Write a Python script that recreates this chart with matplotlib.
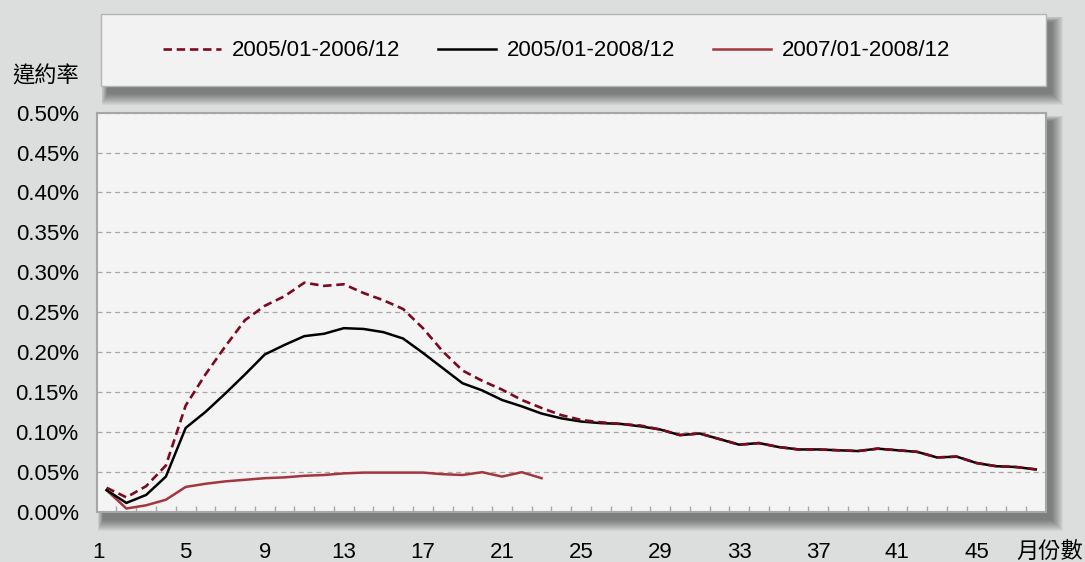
import matplotlib
matplotlib.use("Agg")
import matplotlib.pyplot as plt
from matplotlib.patches import Rectangle
from matplotlib.lines import Line2D
from matplotlib.transforms import ScaledTranslation

plt.rcParams['font.family'] = ['Liberation Sans', 'Noto Sans CJK TC', 'DejaVu Sans']

#-------------------------------------------------------------------------------
# data (default rate in %, by month since origination)

months = list(range(1, 49))

rate_0506 = [0.030, 0.018, 0.032, 0.058, 0.133, 0.172, 0.207, 0.240, 0.258, 0.270,
             0.287, 0.283, 0.285, 0.274, 0.265, 0.254, 0.230, 0.201, 0.177, 0.164,
             0.153, 0.140, 0.130, 0.121, 0.115, 0.112, 0.110, 0.108, 0.103, 0.096,
             0.098, 0.091, 0.084, 0.086, 0.081, 0.078, 0.078, 0.077, 0.076, 0.079,
             0.077, 0.075, 0.068, 0.069, 0.061, 0.057, 0.056, 0.053]

rate_0508 = [0.027, 0.011, 0.021, 0.044, 0.105, 0.125, 0.148, 0.172, 0.197, 0.209,
             0.220, 0.223, 0.230, 0.229, 0.225, 0.217, 0.199, 0.180, 0.161, 0.152,
             0.140, 0.132, 0.123, 0.117, 0.113, 0.111, 0.110, 0.107, 0.103, 0.096,
             0.098, 0.091, 0.084, 0.086, 0.081, 0.078, 0.078, 0.077, 0.076, 0.079,
             0.077, 0.075, 0.068, 0.069, 0.061, 0.057, 0.056, 0.053]

rate_0708 = [0.027, 0.004, 0.008, 0.015, 0.031, 0.035, 0.038, 0.040, 0.042, 0.043,
             0.045, 0.046, 0.048, 0.049, 0.049, 0.049, 0.049, 0.047, 0.046, 0.0495,
             0.044, 0.0495, 0.042]

series_labels = ['2005/01-2006/12', '2005/01-2008/12', '2007/01-2008/12']
yticks = [0.00, 0.05, 0.10, 0.15, 0.20, 0.25, 0.30, 0.35, 0.40, 0.45, 0.50]
xtick_months = [1, 5, 9, 13, 17, 21, 25, 29, 33, 37, 41, 45]

#-------------------------------------------------------------------------------

W, H = 1085, 562
BG = '#dcdedd'
GRAY = '#a6a6a6'
C_DASH = '#7c0a1e'
C_RED = '#a3363f'


def px_box(x0, y0, x1, y1):
	# pixel box (top-left origin) -> figure fraction [l, b, w, h]
	return [x0 / W, 1 - y1 / H, (x1 - x0) / W, (y1 - y0) / H]


def soft_shadow(fig, x0, y0, x1, y1, dx=6, dy=8, n=12):
	# stacked translucent rects, only peeking out right and below
	for i in range(n):
		l, b, w, h = px_box(x0 + dx - i / 2, y0 + dy - i / 2, x1 + dx + i, y1 + dy + i)
		fig.patches.append(Rectangle((l, b), w, h, transform=fig.transFigure,
		                             facecolor='black', edgecolor='none',
		                             alpha=0.045, zorder=0))


fig = plt.figure(figsize=(W / 100, H / 100), dpi=100, facecolor=BG)

# legend box
soft_shadow(fig, 101, 14, 1046, 86)
l, b, w, h = px_box(101, 14, 1046, 86)
fig.patches.append(Rectangle((l, b), w, h, transform=fig.transFigure,
                             facecolor='#f2f2f2', edgecolor='#b4b4b4', lw=1, zorder=1))

# plot box
soft_shadow(fig, 97, 113, 1046, 512)
ax = fig.add_axes(px_box(96.7, 112.7, 1045.7, 511.7))
ax.set_facecolor('#f4f4f4')
ax.set_zorder(2)

ax.plot(months[:len(rate_0708)], rate_0708, color=C_RED, lw=1.8, zorder=3)
ax.plot(months, rate_0508, color='black', lw=1.8, zorder=4)
ax.plot(months, rate_0506, color=C_DASH, lw=1.9, dashes=(3.2, 1.8), zorder=5)

ax.set_xlim(0.5, 48.5)
ax.set_ylim(0, 0.5)

ax.set_yticks(yticks, labels=['%.2f%%' % v for v in yticks])
ax.set_xticks(xtick_months, labels=[str(m) for m in xtick_months])
ax.set_xticks([m + 0.5 for m in months[:-1]], minor=True)
ax.tick_params(axis='y', length=0, pad=13, labelsize=16)
ax.tick_params(axis='x', which='major', length=0, pad=22, labelsize=16)
ax.tick_params(axis='x', which='minor', direction='in', length=4, width=1, color=GRAY)

# first category label sits a little left in the original
first = ax.get_xticklabels()[0]
first.set_transform(first.get_transform() + ScaledTranslation(-8 / 100, 0, fig.dpi_scale_trans))

ax.yaxis.grid(True, linestyle=(0, (4, 3)), color=GRAY, lw=0.9)
ax.set_axisbelow(True)
for s in ax.spines.values():
	s.set_color(GRAY)
	s.set_linewidth(1.5)

# legend
handles = [Line2D([], [], color=C_DASH, lw=1.9, dashes=(3.2, 1.8)),
           Line2D([], [], color='black', lw=1.8),
           Line2D([], [], color=C_RED, lw=1.8)]
leg = fig.legend(handles, series_labels, loc='center', ncol=3, frameon=False,
                 bbox_to_anchor=(557 / W, 1 - 51 / H), bbox_transform=fig.transFigure,
                 fontsize=16, handlelength=2.6, handletextpad=0.5, columnspacing=1.7)
leg.set_zorder(3)

fig.text(12 / W, 1 - 76 / H, '違約率', fontsize=16, va='center', ha='left',
         family=['Noto Sans CJK TC', 'DejaVu Sans'])
fig.text(1050 / W, 1 - 551 / H, '月份數', fontsize=16, va='center', ha='center',
         family=['Noto Sans CJK TC', 'DejaVu Sans'])

fig.savefig('out.png', dpi=100, facecolor=BG)
